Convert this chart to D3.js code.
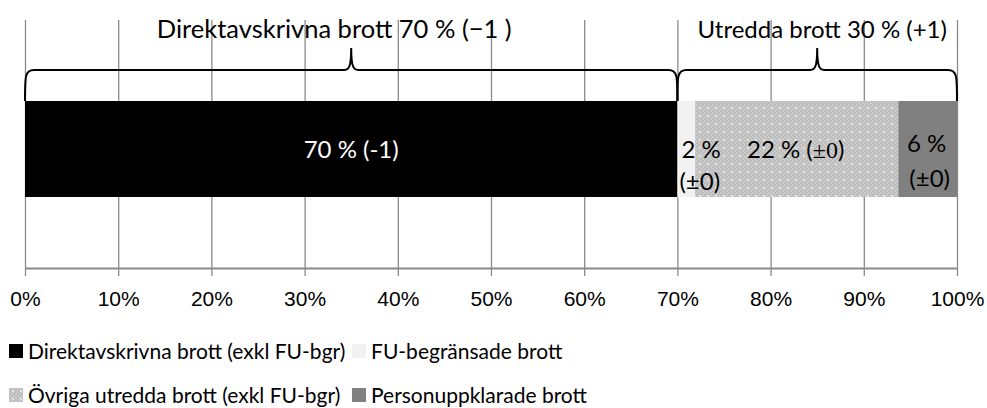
<!DOCTYPE html>
<html>
<head>
<meta charset="utf-8">
<script src="https://cdn.jsdelivr.net/npm/d3@7"></script>
<style>
  body { margin: 0; background: #fff; }
  svg { display: block; font-family: Lato, "Open Sans", sans-serif; }
  .grid line { stroke: #8a8a8a; stroke-width: 1.3; }
  .grid path { display: none; }
  .axis path, .axis line { stroke: #8a8a8a; }
  .axis text { font-size: 21px; fill: #000; }
</style>
</head>
<body>
<div id="chart"></div>
<script>
const categories = [
  "Direktavskrivna brott (exkl FU-bgr)",
  "FU-begränsade brott",
  "Övriga utredda brott (exkl FU-bgr)",
  "Personuppklarade brott"
];
const values = [70, 1.9, 21.8, 6.3];
const barLabels = [
  ["70 % (-1)"],
  ["2 %", "(±0)"],
  ["22 % (", "±0", ")"],
  ["6 %", "(±0)"]
];
const groupLabels = ["Direktavskrivna brott 70 % (−1 )", "Utredda brott 30 % (+1)"];
const groupMembers = [[0], [1, 2, 3]];
const ticks = [0, 10, 20, 30, 40, 50, 60, 70, 80, 90, 100];

const colors = ["#000000", "#f2f2f2", "url(#dots)", "#808080"];

const width = 987;
const height = 408;
const margin = { top: 20, left: 25, right: 30 };

const svg = d3.select("#chart")
  .append("svg")
  .attr("width", width)
  .attr("height", height);

// dotted fill for "Övriga utredda"
const pat = svg.append("defs").append("pattern")
  .attr("id", "dots")
  .attr("width", 8)
  .attr("height", 8)
  .attr("patternUnits", "userSpaceOnUse");
pat.append("rect").attr("width", 8).attr("height", 8).attr("fill", "#bdbdbd");
[[0, 0], [2, 2], [4, 0], [6, 2], [0, 4], [2, 6], [4, 4], [6, 6]].forEach(p => {
  pat.append("rect").attr("x", p[0]).attr("y", p[1]).attr("width", 2).attr("height", 2).attr("fill", "#c9c9c9");
});
pat.append("rect").attr("x", 3).attr("y", 3).attr("width", 2).attr("height", 2).attr("fill", "#e2e2e2");

const x = d3.scaleLinear()
  .domain([0, 100])
  .range([margin.left, width - margin.right]);

const barTop = 101;
const barBottom = 197;
const axisY = 268;

// gridlines
svg.append("g")
  .attr("class", "grid")
  .attr("transform", `translate(0,${axisY})`)
  .call(d3.axisBottom(x).tickValues(ticks).tickSize(-(axisY - margin.top)).tickFormat(""));

// axis
const axis = svg.append("g")
  .attr("class", "axis")
  .attr("transform", `translate(0,${axisY})`)
  .call(d3.axisBottom(x).tickValues(ticks).tickSize(8).tickSizeOuter(0).tickPadding(15).tickFormat(d => d + "%"));
axis.select(".domain").attr("stroke-width", 2.2);
axis.selectAll(".tick line").attr("stroke-width", 1.3);

// stacked segments
const starts = values.map((v, i) => d3.sum(values.slice(0, i)));
const segs = values.map((v, i) => ({ name: categories[i], start: starts[i], end: starts[i] + v, i }));

svg.selectAll(".seg")
  .data(segs)
  .enter()
  .append("rect")
  .attr("class", "seg")
  .attr("x", d => x(d.start))
  .attr("y", barTop)
  .attr("width", d => x(d.end) - x(d.start))
  .attr("height", barBottom - barTop)
  .attr("fill", d => colors[d.i]);

// bar labels
const lbl = svg.append("g").style("font-size", "24px");
const mid = s => (x(s.start) + x(s.end)) / 2;

lbl.append("text")
  .attr("x", mid(segs[0]))
  .attr("y", 158)
  .attr("text-anchor", "middle")
  .attr("fill", "#fff")
  .text(barLabels[0][0]);

lbl.append("text")
  .attr("x", x(segs[1].start) + 4)
  .attr("y", 158)
  .text(barLabels[1][0]);
lbl.append("text")
  .attr("x", x(segs[1].start) + 2)
  .attr("y", 190)
  .text(barLabels[1][1]);

const t22 = lbl.append("text")
  .attr("x", mid(segs[2]) - 1)
  .attr("y", 158)
  .attr("text-anchor", "middle");
t22.append("tspan").text(barLabels[2][0]);
t22.append("tspan").style("font-family", "'Liberation Serif', serif").text(barLabels[2][1]);
t22.append("tspan").text(barLabels[2][2]);

lbl.append("text")
  .attr("x", mid(segs[3]) - 1)
  .attr("y", 152)
  .attr("text-anchor", "middle")
  .text(barLabels[3][0]);
lbl.append("text")
  .attr("x", mid(segs[3]) + 2)
  .attr("y", 187)
  .attr("text-anchor", "middle")
  .text(barLabels[3][1]);

// braces over groups
const braceY = 70;
const peakY = 48;
function brace(x0, x1) {
  const xm = (x0 + x1) / 2;
  return `M${x0},${barTop}` +
    ` C${x0},${braceY + 6} ${x0},${braceY} ${x0 + 9},${braceY}` +
    ` L${xm - 7},${braceY}` +
    ` C${xm - 2},${braceY} ${xm},${braceY - 4} ${xm},${peakY}` +
    ` C${xm},${braceY - 4} ${xm + 2},${braceY} ${xm + 7},${braceY}` +
    ` L${x1 - 9},${braceY}` +
    ` C${x1},${braceY} ${x1},${braceY + 6} ${x1},${barTop}`;
}

const groups = groupMembers.map((m, i) => ({
  label: groupLabels[i],
  start: segs[m[0]].start,
  end: segs[m[m.length - 1]].end
}));

svg.selectAll(".brace")
  .data(groups)
  .enter()
  .append("path")
  .attr("class", "brace")
  .attr("d", d => brace(x(d.start), x(d.end)))
  .attr("fill", "none")
  .attr("stroke", "#000")
  .attr("stroke-width", 2);

const labelShift = [-17, 5];
svg.selectAll(".glabel")
  .data(groups)
  .enter()
  .append("text")
  .attr("class", "glabel")
  .attr("x", (d, i) => mid(d) + labelShift[i])
  .attr("y", 38)
  .attr("text-anchor", "middle")
  .style("font-size", (d, i) => i === 0 ? "25.5px" : "24px")
  .text(d => d.label);

// legend
const legendPos = [[9, 351], [352, 351], [9, 395], [352, 395]];
const legend = svg.selectAll(".leg")
  .data(categories)
  .enter()
  .append("g")
  .attr("class", "leg")
  .attr("transform", (d, i) => `translate(${legendPos[i][0]},${legendPos[i][1]})`);

legend.append("rect")
  .attr("y", -7)
  .attr("width", 14)
  .attr("height", 14)
  .attr("fill", (d, i) => colors[i]);

legend.append("text")
  .attr("x", 19)
  .attr("y", 7.5)
  .style("font-size", "21px")
  .text(d => d);
</script>
</body>
</html>
